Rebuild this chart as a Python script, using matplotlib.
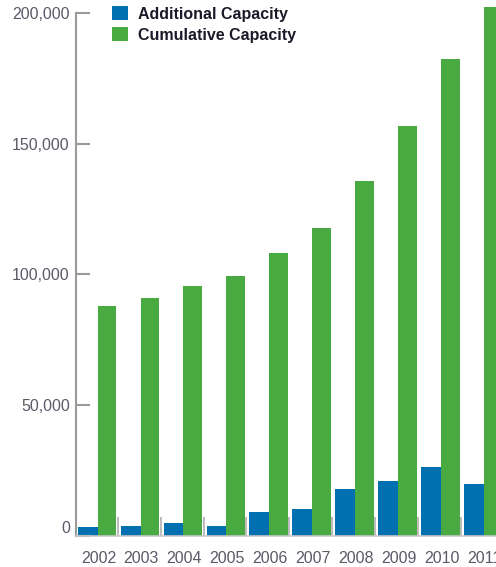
import matplotlib

matplotlib.use("Agg")

import matplotlib.pyplot as plt
import numpy as np
from matplotlib.ticker import FuncFormatter


years = ["2002", "2003", "2004", "2005", "2006", "2007", "2008", "2009", "2010", "2011"]
additional = [3200, 3700, 4900, 3700, 9100, 10200, 18000, 21000, 26400, 19900]
cumulative = [87900, 90900, 95500, 99400, 108200, 117700, 135700, 156800, 182400, 202300]
y_ticks = [0, 50000, 100000, 150000, 200000]

BLUE = "#0070b0"
GREEN = "#4aaa42"
TEXT = "#5a5a68"

plt.rcParams["font.family"] = ["Liberation Sans", "DejaVu Sans"]

fig = plt.figure(figsize=(4.96, 5.67), dpi=100)
ax = fig.add_axes([76 / 496, 31.3 / 567, 1 - 76 / 496, 535.7 / 567])

x = np.arange(len(years))
ax.bar(x - 0.48, additional, width=0.48, align="edge", color=BLUE, label="Additional Capacity",
       linewidth=0)
ax.bar(x - 0.02, cumulative, width=0.44, align="edge", color=GREEN, label="Cumulative Capacity",
       linewidth=0)

for side in ["top", "right"]:
    ax.spines[side].set_visible(False)
ax.spines["left"].set_color("#9a9a9a")
ax.spines["left"].set_linewidth(1.5)
ax.spines["left"].set_bounds(0, 200000)
ax.spines["bottom"].set_color("#c8c8c8")
ax.spines["bottom"].set_linewidth(1.2)

ax.set_yticks(y_ticks)
ax.yaxis.set_major_formatter(FuncFormatter(lambda v, _: f"{int(v):,}"))
ax.tick_params(axis="y", direction="in", length=10, width=1.5, color="#9a9a9a",
               labelsize=11.5, labelcolor=TEXT, pad=4.5)
ax.get_yticklabels()[0].set_va("bottom")

ax.set_xticks(x)
ax.set_xticklabels(years)
ax.set_xticks(x + 0.45, minor=True)
ax.tick_params(axis="x", which="major", length=0, labelsize=11.5, labelcolor=TEXT, pad=11)
ax.tick_params(axis="x", which="minor", direction="in", length=14, width=1.2, color="#b0b0b0")

# limits after the ticks, set_xticks would widen them
ax.set_xlim(-0.524, 9.266)
ax.set_ylim(0, 205000)

fig.legend(loc="upper left", bbox_to_anchor=(106 / 496, 1.0), frameon=False,
           prop={"weight": "bold", "size": 11.5}, handlelength=0.95, handleheight=0.95,
           handletextpad=0.65, labelspacing=0.35, borderaxespad=0.2, borderpad=0.2,
           labelcolor="#1a1a28")

fig.savefig("out.png", dpi=100)
